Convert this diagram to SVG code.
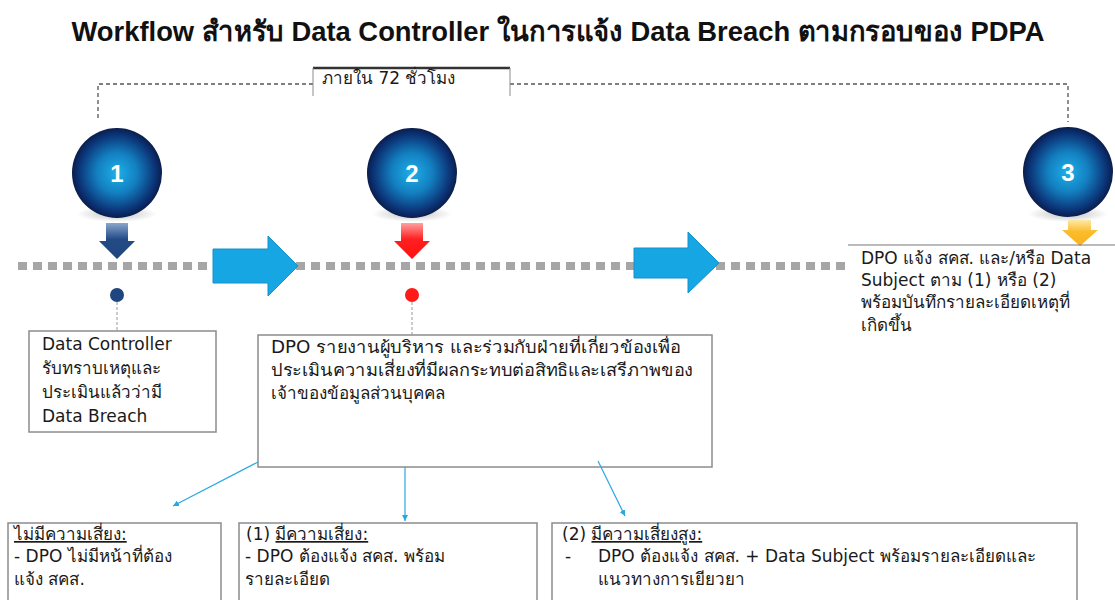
<svg xmlns="http://www.w3.org/2000/svg" width="1115" height="600" viewBox="0 0 1115 600">
<defs>
<radialGradient id="ball" cx="50%" cy="50%" r="50%">
<stop offset="0" stop-color="#1eb0ea"/>
<stop offset="0.45" stop-color="#137fc0"/>
<stop offset="0.85" stop-color="#0b3477"/>
<stop offset="1" stop-color="#0a1d4c"/>
</radialGradient>
<radialGradient id="shadow" cx="50%" cy="50%" r="50%">
<stop offset="0" stop-color="#000" stop-opacity="0.25"/>
<stop offset="1" stop-color="#000" stop-opacity="0"/>
</radialGradient>
<linearGradient id="gBlue" x1="0" y1="0" x2="0" y2="1">
<stop offset="0" stop-color="#8aa6cc"/>
<stop offset="0.45" stop-color="#234b86"/>
<stop offset="1" stop-color="#1f467e"/>
</linearGradient>
<linearGradient id="gRed" x1="0" y1="0" x2="0" y2="1">
<stop offset="0" stop-color="#ffa0a0"/>
<stop offset="0.45" stop-color="#ff2020"/>
<stop offset="1" stop-color="#ff1010"/>
</linearGradient>
<linearGradient id="gYel" x1="0" y1="0" x2="0" y2="1">
<stop offset="0" stop-color="#fde9a8"/>
<stop offset="0.45" stop-color="#fbbc2c"/>
<stop offset="1" stop-color="#f9b21c"/>
</linearGradient>
<marker id="ah" markerWidth="8" markerHeight="8" refX="6" refY="4" orient="auto" markerUnits="userSpaceOnUse">
<path d="M0,1 L6,4 L0,7 Z" fill="#29a8e0"/>
</marker>
</defs>
<style>
.t{font-family:"DejaVu Sans","Liberation Sans","Noto Sans",sans-serif;font-size:17px;fill:#1a1a1a}
.title{font-family:"Liberation Sans","Noto Sans",sans-serif;font-size:28px;font-weight:bold;fill:#111}
.num{font-family:"Liberation Sans","Noto Sans",sans-serif;font-size:24px;font-weight:bold;fill:#fff}
.box{fill:#fff;stroke:#8c8c8c;stroke-width:1.5}
.timeline{stroke:#a6a6a6;stroke-width:8;stroke-dasharray:9 6;fill:none}
.bigArrow{fill:#16a6e3;stroke:#1590c8;stroke-width:1}
.bracket{stroke:#555;stroke-width:1.3;stroke-dasharray:4 3;fill:none}
.conn{stroke:#29a8e0;stroke-width:1.2;fill:none;marker-end:url(#ah)}
.vdash{stroke:#999;stroke-width:1;stroke-dasharray:3 2;fill:none}
</style>
<rect width="1115" height="600" fill="#fff"/>
<text class="title" x="558" y="41" text-anchor="middle" textLength="973" lengthAdjust="spacingAndGlyphs">Workflow สำหรับ Data Controller ในการแจ้ง Data Breach ตามกรอบของ PDPA</text>

<g id="bracket72">
<path class="bracket" d="M98,118 L98,84 L313,84"/>
<path class="bracket" d="M510,84 L1068,84 L1068,122"/>
<line x1="313" y1="68" x2="510" y2="68" stroke="#333" stroke-width="2.5"/>
<line x1="313" y1="68" x2="313" y2="96" stroke="#8c8c8c" stroke-width="1"/>
<line x1="510" y1="68" x2="510" y2="96" stroke="#8c8c8c" stroke-width="1"/>
<text class="t" x="322" y="84" font-size="15">ภายใน 72 ชั่วโมง</text>
</g>

<g id="timeline">
<line class="timeline" x1="18" y1="266" x2="220" y2="266"/>
<line class="timeline" x1="296" y1="266" x2="640" y2="266"/>
<line class="timeline" x1="716" y1="266" x2="846" y2="266"/>
<path class="bigArrow" d="M213,249 L268,249 L268,236 L298,266 L268,296 L268,283 L213,283 Z"/>
<path class="bigArrow" d="M634,248 L688,248 L688,232 L719,263 L688,293 L688,278 L634,278 Z"/>
</g>

<g id="step1">
<ellipse cx="117" cy="214" rx="40" ry="8" fill="url(#shadow)"/>
<circle cx="117" cy="173" r="45" fill="url(#ball)"/>
<text class="num" x="117" y="182" text-anchor="middle">1</text>
<path d="M106,223 L128,223 L128,241 L135,241 L117,259 L99,241 L106,241 Z" fill="url(#gBlue)"/>
<circle cx="117" cy="295" r="7" fill="#1f467e"/>
<line class="vdash" x1="117" y1="302" x2="117" y2="330"/>
</g>

<g id="step2">
<ellipse cx="412" cy="214" rx="40" ry="8" fill="url(#shadow)"/>
<circle cx="412" cy="173" r="45" fill="url(#ball)"/>
<text class="num" x="412" y="182" text-anchor="middle">2</text>
<path d="M401,223 L423,223 L423,241 L430,241 L412,259 L394,241 L401,241 Z" fill="url(#gRed)"/>
<circle cx="412" cy="295" r="7" fill="#ff1a1a"/>
<line class="vdash" x1="412" y1="302" x2="412" y2="335"/>
</g>

<g id="step3">
<ellipse cx="1068" cy="214" rx="40" ry="8" fill="url(#shadow)"/>
<circle cx="1068" cy="172" r="45" fill="url(#ball)"/>
<text class="num" x="1068" y="181" text-anchor="middle">3</text>
<path d="M1068,220 L1091,220 L1091,230 L1098,230 L1080,246 L1062,230 L1068,230 Z" fill="url(#gYel)"/>
<line x1="848" y1="245" x2="1115" y2="245" stroke="#777" stroke-width="1.2"/>
<text class="t"><tspan x="861" y="264">DPO แจ้ง สคส. และ/หรือ Data</tspan><tspan x="861" y="286">Subject ตาม (1) หรือ (2)</tspan><tspan x="861" y="308">พร้อมบันทึกรายละเอียดเหตุที่</tspan><tspan x="861" y="331">เกิดขึ้น</tspan></text>
</g>

<g id="box1">
<rect class="box" x="29" y="331" width="187" height="101" stroke="#555"/>
<text class="t"><tspan x="42" y="350">Data Controller</tspan><tspan x="42" y="374">รับทราบเหตุและ</tspan><tspan x="42" y="398">ประเมินแล้วว่ามี</tspan><tspan x="42" y="422">Data Breach</tspan></text>
</g>

<g id="box2">
<rect class="box" x="258" y="335" width="454" height="132"/>
<text class="t" x="271" y="353" textLength="410" lengthAdjust="spacingAndGlyphs">DPO รายงานผู้บริหาร และร่วมกับฝ่ายที่เกี่ยวข้องเพื่อ</text>
<text class="t" x="271" y="376" textLength="422" lengthAdjust="spacingAndGlyphs">ประเมินความเสี่ยงที่มีผลกระทบต่อสิทธิและเสรีภาพของ</text>
<text class="t" x="271" y="399">เจ้าของข้อมูลส่วนบุคคล</text>
</g>

<g id="connectors">
<line class="conn" x1="258" y1="462" x2="173" y2="506"/>
<line class="conn" x1="405" y1="467" x2="405" y2="521"/>
<line class="conn" x1="598" y1="461" x2="625" y2="516"/>
</g>

<g id="boxA">
<rect class="box" x="8" y="523" width="213" height="90"/>
<text class="t"><tspan x="14" y="540" text-decoration="underline">ไม่มีความเสี่ยง:</tspan><tspan x="14" y="562">- DPO ไม่มีหน้าที่ต้อง</tspan><tspan x="14" y="585">แจ้ง สคส.</tspan></text>
</g>

<g id="boxB">
<rect class="box" x="239" y="523" width="298" height="90"/>
<text class="t"><tspan x="246" y="540">(1) </tspan><tspan text-decoration="underline">มีความเสี่ยง:</tspan><tspan x="245" y="562">- DPO ต้องแจ้ง สคส. พร้อม</tspan><tspan x="245" y="585">รายละเอียด</tspan></text>
</g>

<g id="boxC">
<rect class="box" x="552" y="523" width="525" height="90"/>
<text class="t"><tspan x="562" y="540">(2) </tspan><tspan text-decoration="underline">มีความเสี่ยงสูง:</tspan><tspan x="565" y="562">-</tspan><tspan x="598" y="562">DPO ต้องแจ้ง สคส. + Data Subject พร้อมรายละเอียดและ</tspan><tspan x="598" y="585">แนวทางการเยียวยา</tspan></text>
</g>
</svg>
